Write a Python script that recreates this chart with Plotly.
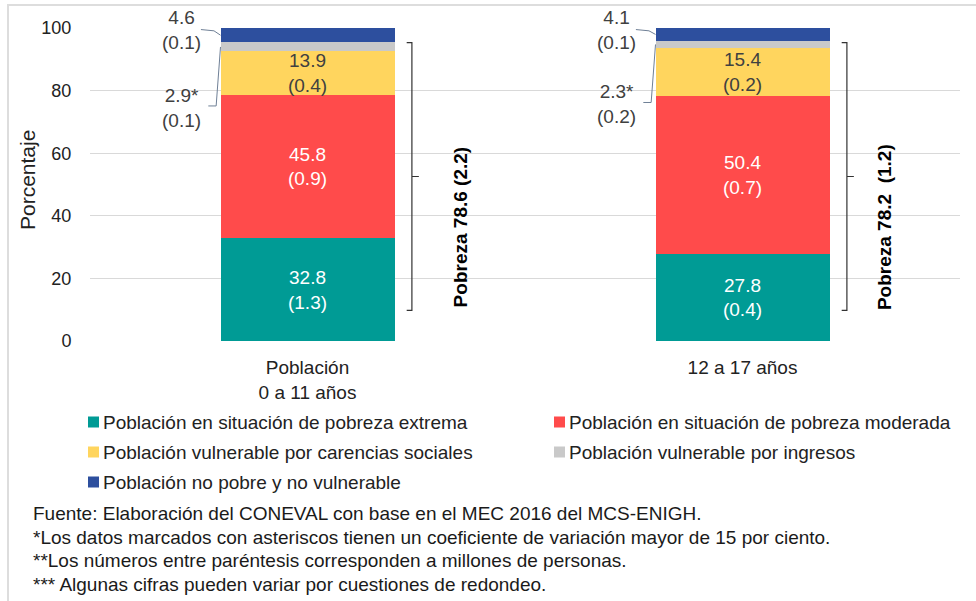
import plotly.graph_objects as go

# ---------------- data ----------------
categories = ["Población<br>0 a 11 años", "12 a 17 años"]
series_names = [
    "Población en situación de pobreza extrema",
    "Población en situación de pobreza moderada",
    "Población vulnerable por carencias sociales",
    "Población vulnerable por ingresos",
    "Población no pobre y no vulnerable",
]
pct_extrema = [32.8, 27.8]
pct_moderada = [45.8, 50.4]
pct_carencias = [13.9, 15.4]
pct_ingresos = [2.9, 2.3]
pct_no_pobre = [4.6, 4.1]

mill_extrema = [1.3, 0.4]
mill_moderada = [0.9, 0.7]
mill_carencias = [0.4, 0.2]
mill_ingresos = [0.1, 0.2]
mill_no_pobre = [0.1, 0.1]

asterisk_ingresos = ["*", "*"]

pobreza_total = [78.6, 78.2]
pobreza_mill = [2.2, 1.2]
pobreza_sep = [" ", "\u00a0 "]

y_ticks = [0, 20, 40, 60, 80, 100]

footnotes = [
    "Fuente: Elaboración del CONEVAL con base en el MEC 2016 del MCS-ENIGH.",
    "*Los datos marcados con asteriscos tienen un coeficiente de variación mayor de 15 por ciento.",
    "**Los números entre paréntesis corresponden a millones de personas.",
    "*** Algunas cifras pueden variar por cuestiones de redondeo.",
]

# ---------------- style ----------------
FONT = "Liberation Sans, Arial, sans-serif"
FS = 19
colors = ["#009B95", "#FF4B4B", "#FFD55E", "#C9C9C9", "#2D4F9E"]
text_colors = ["white", "white", "#404040", "#404040", "#404040"]
W, H = 976, 601
ML, MR, MT, MB = 90, 16, 28, 260
PW, PH = W - ML - MR, H - MT - MB


def px_x(px):
    return (px - ML) / PW


def px_y(py):
    return (MT + PH - py) / PH


xs = list(range(len(categories)))
series_pct = [pct_extrema, pct_moderada, pct_carencias, pct_ingresos, pct_no_pobre]
series_mill = [mill_extrema, mill_moderada, mill_carencias, mill_ingresos, mill_no_pobre]
inside = [True, True, True, False, False]

fig = go.Figure()
for k in range(5):
    txt = [
        (f"{v:.1f}<br>({m:.1f})" if inside[k] else "")
        for v, m in zip(series_pct[k], series_mill[k])
    ]
    fig.add_trace(go.Bar(
        x=xs, y=series_pct[k], name=series_names[k],
        marker=dict(color=colors[k], line=dict(width=0)),
        width=0.40, text=txt, textposition="inside",
        insidetextanchor="middle", textangle=0, constraintext="none",
        textfont=dict(family=FONT, size=FS, color=text_colors[k]),
        hoverinfo="skip", showlegend=False,
    ))

annotations = []
shapes = []
leader_color = "#6f8096"
pob_dx = [0.352, 0.326]
for i in xs:
    top = sum(s[i] for s in series_pct)
    gray_bottom = pct_extrema[i] + pct_moderada[i] + pct_carencias[i]
    gray_mid = gray_bottom + pct_ingresos[i] / 2
    blue_mid = top - pct_no_pobre[i] / 2
    # outside labels
    annotations.append(dict(
        x=i - 0.29, y=top - 0.5, xref="x", yref="y", showarrow=False,
        text=f"{pct_no_pobre[i]:.1f}<br>({mill_no_pobre[i]:.1f})",
        font=dict(family=FONT, size=FS, color="#404040"),
        xanchor="center", yanchor="middle",
    ))
    annotations.append(dict(
        x=i - 0.29, y=gray_bottom - 18, xref="x", yref="y", showarrow=False,
        text=f"{pct_ingresos[i]:.1f}{asterisk_ingresos[i]}<br>({mill_ingresos[i]:.1f})",
        font=dict(family=FONT, size=FS, color="#404040"),
        xanchor="center", yanchor="middle",
    ))
    # leader lines
    shapes.append(dict(
        type="path", xref="x", yref="y",
        path=f"M{i-0.245},{top-0.5} L{i-0.215},{top-0.9} L{i-0.2},{blue_mid}",
        line=dict(color=leader_color, width=1),
    ))
    ly = gray_bottom - 18 + 0.6
    shapes.append(dict(
        type="path", xref="x", yref="y",
        path=f"M{i-0.228},{ly} L{i-0.21},{ly} L{i-0.2},{gray_mid}",
        line=dict(color=leader_color, width=1),
    ))
    # bracket
    bx = i + 0.24
    btop, bbot = 95.3, 9.8
    bmid = (btop + bbot) / 2
    shapes.append(dict(
        type="path", xref="x", yref="y",
        path=(f"M{bx-0.012},{btop} L{bx},{btop} L{bx},{bbot} L{bx-0.012},{bbot} "
              f"M{bx},{bmid} L{bx+0.016},{bmid}"),
        line=dict(color="#333333", width=1.2),
    ))
    annotations.append(dict(
        x=i + pob_dx[i], y=36.5, xref="x", yref="y", showarrow=False,
        text=f"<b>Pobreza {pobreza_total[i]:.1f}{pobreza_sep[i]}({pobreza_mill[i]:.1f})</b>",
        textangle=-90, font=dict(family=FONT, size=FS, color="black"),
        xanchor="center", yanchor="middle",
    ))

# y-axis title
annotations.append(dict(
    x=px_x(27), y=px_y(180), xref="paper", yref="paper",
    showarrow=False, text="Porcentaje", textangle=-90,
    font=dict(family=FONT, size=21, color="#222222"),
    xanchor="center", yanchor="middle",
))

# custom legend (two columns)
leg_cols = [88, 554]
leg_rows = [422, 452, 482]
for k, name in enumerate(series_names):
    cx = leg_cols[k % 2]
    cy = leg_rows[k // 2]
    shapes.append(dict(
        type="rect", xref="paper", yref="paper",
        x0=px_x(cx), x1=px_x(cx + 11), y0=px_y(cy + 5.5), y1=px_y(cy - 5.5),
        fillcolor=colors[k], line=dict(width=0),
    ))
    annotations.append(dict(
        x=px_x(cx + 13), y=px_y(cy), xref="paper", yref="paper",
        showarrow=False, text=name, xanchor="left", yanchor="middle",
        font=dict(family=FONT, size=FS, color="#222222"),
    ))

# footnotes
foot_y = [513, 537, 560, 584]
for t, py in zip(footnotes, foot_y):
    annotations.append(dict(
        x=px_x(31), y=px_y(py), xref="paper", yref="paper",
        showarrow=False, text=t, xanchor="left", yanchor="middle",
        font=dict(family=FONT, size=FS, color="#1a1a1a"),
    ))

# frame
shapes.append(dict(
    type="path", xref="paper", yref="paper",
    path=(f"M{px_x(8)},{px_y(620)} L{px_x(8)},{px_y(5)} L{px_x(990)},{px_y(5)}"),
    line=dict(color="#dddddd", width=2),
))

fig.update_layout(
    barmode="stack",
    width=W, height=H,
    margin=dict(l=ML, r=MR, t=MT, b=MB, autoexpand=False),
    paper_bgcolor="white", plot_bgcolor="white",
    font=dict(family=FONT, size=FS, color="#222222"),
    showlegend=False,
    xaxis=dict(
        range=[-0.5, 1.5], tickvals=xs, ticktext=categories,
        showgrid=False, zeroline=False, showline=False,
        ticks="outside", ticklen=9, tickcolor="rgba(0,0,0,0)",
        tickfont=dict(family=FONT, size=FS, color="#222222"),
    ),
    yaxis=dict(
        range=[0, 100], tickvals=y_ticks, showgrid=True,
        gridcolor="#d9d9d9", gridwidth=1, zeroline=False, showline=False,
        ticks="outside", ticklen=14, tickcolor="rgba(0,0,0,0)",
        tickfont=dict(family=FONT, size=18, color="#222222"),
    ),
    annotations=annotations, shapes=shapes,
)

fig.write_html(
    "out.html",
    config={"displayModeBar": False},
    post_script="document.body.style.margin='0';",
)
